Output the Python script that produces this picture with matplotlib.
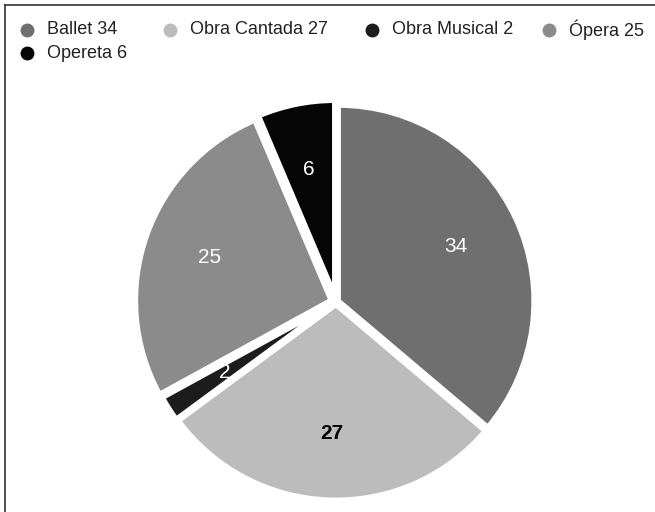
import matplotlib.pyplot as plt
from matplotlib.lines import Line2D

# data
labels = ["Ballet", "Obra Cantada", "Obra Musical", "Ópera", "Opereta"]
values = [34, 27, 2, 25, 6]
colors = ["#6f6f6f", "#bcbcbc", "#1c1c1c", "#8b8b8b", "#050505"]
text_colors = ["white", "black", "white", "white", "white"]
text_weights = ["normal", "bold", "normal", "normal", "normal"]

plt.rcParams['font.family'] = ['Liberation Sans', 'DejaVu Sans']

W, H = 655, 512
fig = plt.figure(figsize=(W / 100, H / 100), dpi=100)

# pie axes: center in px from top-left, radius in px
cx, cy, R = 336, 302, 196
half = 220
lim = half / R
ax = fig.add_axes([(cx - half) / W, (H - cy - half) / H, 2 * half / W, 2 * half / H])
wedges, texts = ax.pie(values, colors=colors, startangle=90, counterclock=False,
                       explode=[0.012, 0.012, 0.012, 0.025, 0.03],
                       labels=[str(v) for v in values], labeldistance=0.66,
                       wedgeprops=dict(edgecolor="white", linewidth=4))
for t, c, w in zip(texts, text_colors, text_weights):
    t.set_color(c)
    t.set_fontweight(w)
    t.set_fontsize(15)
    t.set_ha("center")
    t.set_va("center")
ax.set_xlim(-lim, lim)
ax.set_ylim(-lim, lim)
ax.set_aspect("equal")
ax.axis("off")

# legend drawn by hand in pixel coordinates
lg = fig.add_axes([0, 0, 1, 1])
lg.set_xlim(0, W)
lg.set_ylim(H, 0)
lg.axis("off")
leg_pos = [(27, 30), (170, 30), (372, 30), (549, 30), (27, 53)]
for (x, y), name, v, c in zip(leg_pos, labels, values, colors):
    lg.plot(x, y, "o", color=c, markersize=9)
    lg.text(x + 20, y, f"{name} {v}", fontsize=13, va="center", ha="left", color="#222222")

# frame lines (top and left)
fig.add_artist(Line2D([5 / W, 1], [1 - 5 / H, 1 - 5 / H], color="#333333", linewidth=1.2))
fig.add_artist(Line2D([5 / W, 5 / W], [0, 1 - 5 / H], color="#333333", linewidth=1.2))

fig.savefig("out.png", dpi=100)
